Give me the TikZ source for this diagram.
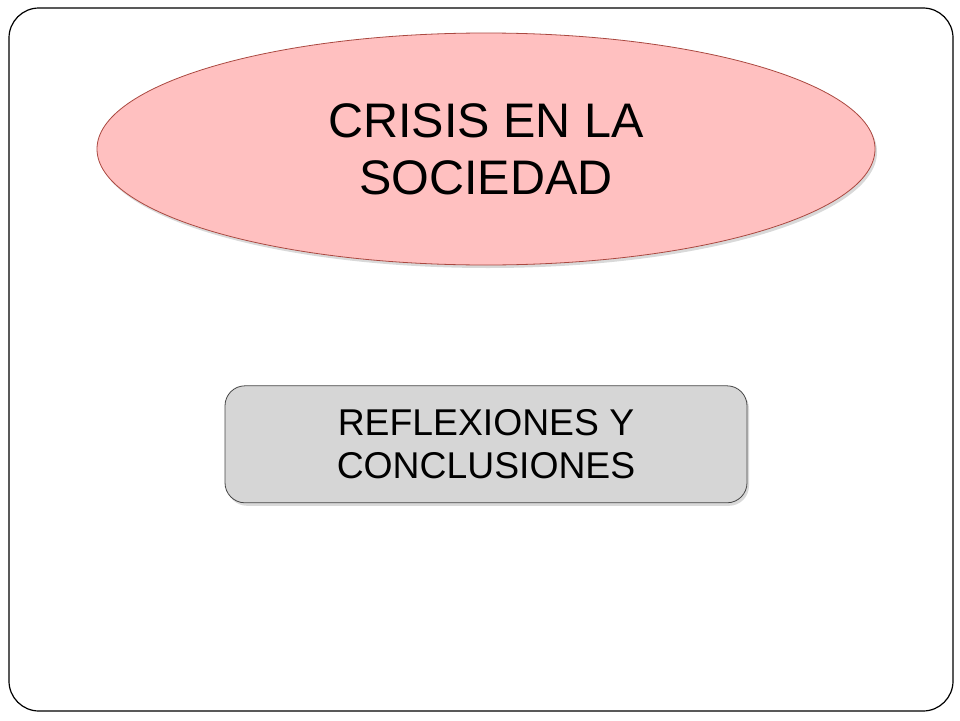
\documentclass[tikz,border=0pt]{standalone}
\usepackage{fontspec}
\setmainfont{Liberation Sans}
\usepackage{tikz}
\usetikzlibrary{positioning,shapes.geometric,shadows}
\definecolor{crisispink}{RGB}{255,192,192}
\definecolor{crisisline}{RGB}{170,72,64}
\definecolor{closegray}{RGB}{214,214,214}
\definecolor{closeline}{RGB}{70,70,70}

\begin{document}
\begin{tikzpicture}[x=1pt,y=-1pt,
ovalnode/.style={ellipse, draw=crisisline, fill=crisispink, line width=0.8pt, minimum width=778pt, minimum height=232pt, inner sep=0pt, align=center, font=\fontsize{48.5}{57}\selectfont, drop shadow={opacity=0.3, shadow xshift=2pt, shadow yshift=-3pt}},
boxnode/.style={rectangle, rounded corners=20pt, draw=closeline, fill=closegray, line width=0.8pt, minimum width=522pt, minimum height=117pt, inner sep=0pt, align=center, font=\fontsize{37.3}{43}\selectfont, drop shadow={opacity=0.3, shadow xshift=2pt, shadow yshift=-3pt}},
]
\useasboundingbox (0,0) rectangle (960,720);
%Frame
\draw[line width=1.2pt, rounded corners=30pt] (9,8) rectangle (953,711);

%Nodes
\node[ovalnode]  (crisis)                         at (486,149) {CRISIS EN LA\\SOCIEDAD};
\node[boxnode]   (reflexiones) [below=120pt of crisis]          {REFLEXIONES Y\\CONCLUSIONES};
\end{tikzpicture}
\end{document}
